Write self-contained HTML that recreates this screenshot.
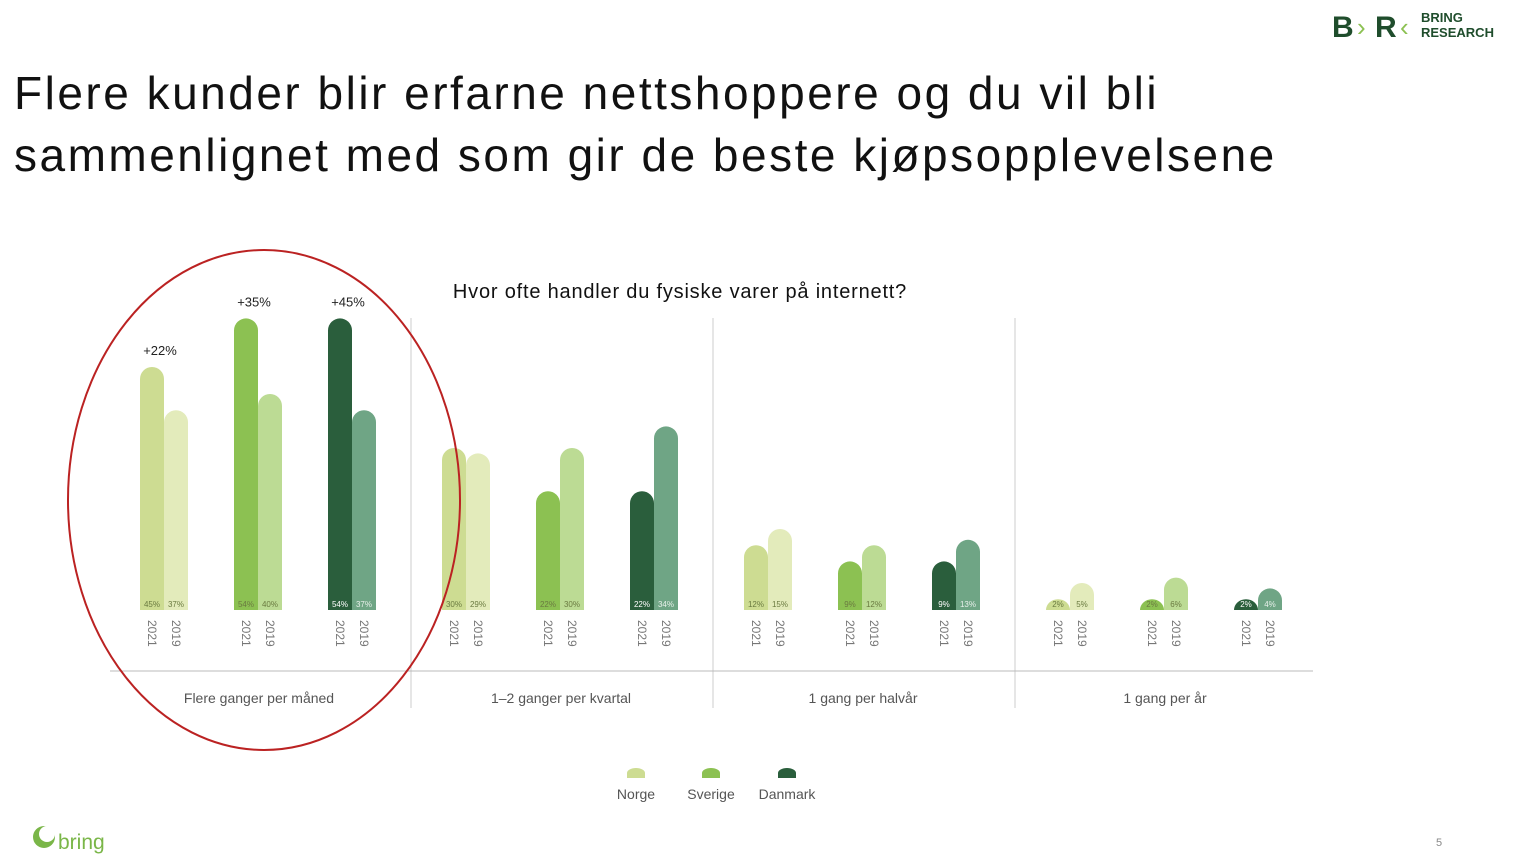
<!DOCTYPE html>
<html><head><meta charset="utf-8"><style>
body{margin:0;width:1522px;height:867px;background:#fff;overflow:hidden;font-family:"Liberation Sans",sans-serif}
#title{position:absolute;left:14px;top:62px;font-size:46px;line-height:62px;color:#111;margin:0;font-weight:normal;letter-spacing:2.5px}
</style></head><body>
<h1 id="title">Flere kunder blir erfarne nettshoppere og du vil bli<br>sammenlignet med som gir de beste kjøpsopplevelsene</h1>
<svg id="chart" width="1522" height="867" style="position:absolute;left:0;top:0" font-family="Liberation Sans, sans-serif">
<g>
<text x="1332" y="37" font-size="30" font-weight="bold" fill="#1f4d2c">B</text>
<text x="1357" y="36" font-size="26" fill="#8cc152">›</text>
<text x="1375" y="37" font-size="30" font-weight="bold" fill="#1f4d2c">R</text>
<text x="1400" y="36" font-size="26" fill="#8cc152">‹</text>
<text x="1421" y="22" font-size="13" font-weight="bold" fill="#1f4d2c">BRING</text>
<text x="1421" y="37" font-size="13" font-weight="bold" fill="#1f4d2c">RESEARCH</text>
</g>
<text x="680" y="298" font-size="20" letter-spacing="0.8" text-anchor="middle" fill="#111">Hvor ofte handler du fysiske varer på internett?</text>
<g id="marks"></g>
<g>
<circle cx="44" cy="837" r="11" fill="#7ab648"/><circle cx="47" cy="834" r="8" fill="#fff"/>
<text x="58" y="849" font-size="21" fill="#7ab648">bring</text></g>
<text x="1436" y="846" font-size="11" fill="#888">5</text>
</svg>
<script>
const categories=["Flere ganger per måned","1–2 ganger per kvartal","1 gang per halvår","1 gang per år"];
const countries=["Norge","Sverige","Danmark"];
const years=["2021","2019"];
const norge2021=[45,30,12,2], norge2019=[37,29,15,5];
const sverige2021=[54,22,9,2], sverige2019=[40,30,12,6];
const danmark2021=[54,22,9,2], danmark2019=[37,34,13,4];
const growth=["+22%","+35%","+45%"];
const series=[[norge2021,norge2019],[sverige2021,sverige2019],[danmark2021,danmark2019]];
const colors=[["#cddc92","#e3ebbb"],["#8cc152","#bcdb94"],["#2a5e3c","#6fa585"]];
const NS="http://www.w3.org/2000/svg",g=document.getElementById("marks");
const base=610,scale=5.4,gw=302,g0=108,bw=24;
const yS=v=>base-v*scale, xS=(gi,ci,yi)=>g0+gi*gw+32+ci*94+yi*bw;
function mk(t,a,txt){const e=document.createElementNS(NS,t);for(const k in a)e.setAttribute(k,a[k]);if(txt!==undefined)e.textContent=txt;g.appendChild(e);return e;}
categories.forEach((c,gi)=>{
 const t=mk("text",{x:g0+gi*gw+151,y:703,"font-size":14,fill:"#555","text-anchor":"middle"},c);
 
 
 if(gi>0){const l=mk("line",{x1:g0+gi*gw+1,x2:g0+gi*gw+1,y1:318,y2:708,stroke:"#ccc"});
 
 }
 countries.forEach((cn,ci)=>years.forEach((yr,yi)=>{
  const v=series[ci][yi][gi],x=xS(gi,ci,yi),y=yS(v),h=base-y,r=Math.min(12,h);
  const p=mk("path",{d:`M${x},${base}V${y+r}A12,${r} 0 0 1 ${x+bw},${y+r}V${base}Z`,fill:colors[ci][yi]});
  
  
  const lb=mk("text",{x:x+bw/2,y:607,"font-size":8,"text-anchor":"middle",fill:ci==2&&yi==0?"#fff":(ci==2?"#e8f0ea":"#6a7a40")},v+"%");
  
  
  const yl=mk("text",{x:0,y:0,"font-size":12,fill:"#777",transform:`translate(${x+bw/2-4},620) rotate(90)`},yr);
  
  
 }));
});
growth.forEach((s,ci)=>{const x=xS(0,ci,0)+bw/2,y=yS(series[ci][0][0])-12;
 const t=mk("text",{x:x+8,y:y,"font-size":13,"text-anchor":"middle",fill:"#222"},s);
 
 });
const ax=mk("line",{x1:110,x2:1313,y1:671,y2:671,stroke:"#bbb"});


const el=mk("ellipse",{cx:264,cy:500,rx:196,ry:250,fill:"none",stroke:"#b22","stroke-width":2});


countries.forEach((cn,ci)=>{const cx=[636,711,787][ci];
 const m=mk("path",{d:`M${cx-9},778V773A9,5 0 0 1 ${cx+9},773V778Z`,fill:colors[ci][0]});
 
 
 const t=mk("text",{x:cx,y:799,"font-size":14,fill:"#555","text-anchor":"middle"},cn);
 
 });
</script>
</body></html>
